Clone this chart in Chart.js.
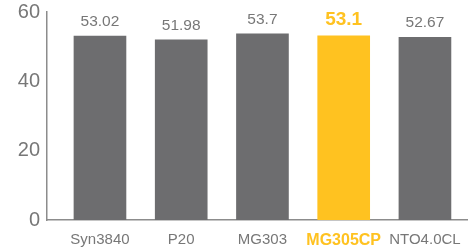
<!DOCTYPE html>
<html>
<head>
<meta charset="utf-8">
<script src="https://cdn.jsdelivr.net/npm/chart.js@4/dist/chart.umd.min.js"></script>
<style>
html,body{margin:0;padding:0;background:#fff;}
#wrap{width:468px;height:249px;position:relative;}
</style>
</head>
<body>
<div id="wrap"><canvas id="c" width="468" height="249"></canvas></div>
<script>
const categories = ["Syn3840", "P20", "MG303", "MG305CP", "NTO4.0CL"];
const values = [53.02, 51.98, 53.7, 53.1, 52.67];
const valueLabels = ["53.02", "51.98", "53.7", "53.1", "52.67"];
const highlight = "MG305CP";
const yTicks = [0, 20, 40, 60];

const GREY = "#6d6d6f";
const ORANGE = "#ffc220";
const TEXT = "#777777";
const FONT = "'Liberation Sans', Arial, Helvetica, sans-serif";

const isHi = i => categories[i] === highlight;

const labelPlugin = {
  id: "valueLabels",
  afterDatasetsDraw(chart) {
    const ctx = chart.ctx;
    const meta = chart.getDatasetMeta(0);
    ctx.save();
    ctx.textAlign = "center";
    ctx.textBaseline = "alphabetic";
    meta.data.forEach((bar, i) => {
      const hi = isHi(i);
      ctx.font = (hi ? "bold 19px " : "15.5px ") + FONT;
      ctx.fillStyle = hi ? ORANGE : TEXT;
      ctx.fillText(valueLabels[i], bar.x, bar.y - (hi ? 11 : 10));
    });
    ctx.restore();
  }
};

new Chart(document.getElementById("c"), {
  type: "bar",
  data: {
    datasets: [{
      data: categories.map((c, i) => ({ x: i, y: values[i] })),
      backgroundColor: categories.map((c, i) => isHi(i) ? ORANGE : GREY),
      barThickness: 52,
      borderWidth: 0
    }]
  },
  options: {
    responsive: false,
    animation: false,
    events: [],
    layout: { padding: { top: 12, right: 0, left: 0, bottom: 0 } },
    plugins: { legend: { display: false }, tooltip: { enabled: false } },
    scales: {
      x: {
        type: "linear",
        offset: false,
        min: -0.652,
        max: 4.53,
        afterBuildTicks: s => { s.ticks = categories.map((c, i) => ({ value: i })); },
        afterFit: s => { s.height = 29; s.paddingLeft = 0; s.paddingRight = 0; },
        grid: { display: false, drawTicks: false, offset: false },
        border: { display: true, color: "#8c8c8c", width: 1.5 },
        ticks: {
          padding: 11,
          autoSkip: false,
          maxRotation: 0,
          callback: (v) => categories[v] !== undefined ? categories[v] : "",
          color: ctx => isHi(ctx.index) ? ORANGE : TEXT,
          font: ctx => ({ family: FONT, size: isHi(ctx.index) ? 16 : 15, weight: isHi(ctx.index) ? "bold" : "normal" })
        }
      },
      y: {
        min: 0,
        max: 60,
        afterBuildTicks: s => { s.ticks = yTicks.map(v => ({ value: v })); },
        afterFit: s => { s.width = 47; s.paddingTop = 0; s.paddingBottom = 0; },
        grid: { display: false, drawTicks: false },
        border: { display: true, color: "#8c8c8c", width: 1.5 },
        ticks: {
          padding: 7,
          color: TEXT,
          font: { family: FONT, size: 20 }
        }
      }
    }
  },
  plugins: [labelPlugin]
});
</script>
</body>
</html>
